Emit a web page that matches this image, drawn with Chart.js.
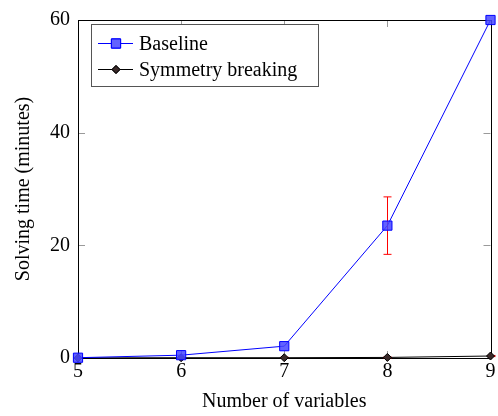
<!DOCTYPE html>
<html>
<head>
<meta charset="utf-8">
<script src="https://cdn.jsdelivr.net/npm/chart.js@4/dist/chart.umd.min.js"></script>
<style>
  html, body { margin: 0; padding: 0; background: #fff; }
  #wrap { width: 498px; height: 416px; }
</style>
</head>
<body>
<div id="wrap"><canvas id="c" width="498" height="416"></canvas></div>
<script>
const numVariables = [5, 6, 7, 8, 9];
const baselineTime = [0.05, 0.5, 2.1, 23.5, 60];
const baselineErr = [0, 0, 0, 5.1, 0];
const symmetryTime = [0.02, 0.05, 0.05, 0.1, 0.35];
const symmetryErr = [0, 0, 0.1, 0.1, 0.1];
const xTicks = [5, 6, 7, 8, 9];
const yTicks = [0, 20, 40, 60];
const seriesNames = ['Baseline', 'Symmetry breaking'];

const FONT = '"Liberation Serif", "Times New Roman", serif';
const FS = 20;

const toPoints = (ys) => numVariables.map((x, i) => ({ x: x, y: ys[i] }));

const errorBars = {
  id: 'errorBars',
  beforeDatasetsDraw(chart) {
    const ctx = chart.ctx;
    const xs = chart.scales.x, ys = chart.scales.y;
    const errs = [baselineErr, symmetryErr];
    const vals = [baselineTime, symmetryTime];
    ctx.save();
    ctx.strokeStyle = '#ff0000';
    ctx.lineWidth = 1;
    errs.forEach((e, k) => {
      numVariables.forEach((xv, i) => {
        if (!e[i]) return;
        const px = Math.round(xs.getPixelForValue(xv)) + 0.5;
        const top = ys.getPixelForValue(vals[k][i] + e[i]);
        const bot = ys.getPixelForValue(Math.max(0, vals[k][i] - e[i]));
        ctx.beginPath();
        ctx.moveTo(px, top); ctx.lineTo(px, bot);
        ctx.moveTo(px - 4, top); ctx.lineTo(px + 4, top);
        ctx.moveTo(px - 4, bot); ctx.lineTo(px + 4, bot);
        ctx.stroke();
      });
    });
    ctx.restore();
  }
};

const frame = {
  id: 'frame',
  beforeDatasetsDraw(chart) {
    const ctx = chart.ctx;
    const a = chart.chartArea;
    const xs = chart.scales.x, ys = chart.scales.y;
    ctx.save();
    // inward ticks
    ctx.strokeStyle = '#9a9a9a';
    ctx.lineWidth = 1;
    const TL = 7;
    ctx.beginPath();
    xTicks.forEach(v => {
      const px = Math.round(xs.getPixelForValue(v)) + 0.5;
      ctx.moveTo(px, a.bottom); ctx.lineTo(px, a.bottom - TL);
      ctx.moveTo(px, a.top); ctx.lineTo(px, a.top + TL);
    });
    yTicks.forEach(v => {
      const py = Math.round(ys.getPixelForValue(v)) + 0.5;
      ctx.moveTo(a.left, py); ctx.lineTo(a.left + TL, py);
      ctx.moveTo(a.right, py); ctx.lineTo(a.right - TL, py);
    });
    ctx.stroke();
    // box
    ctx.strokeStyle = '#000';
    ctx.lineWidth = 1;
    ctx.strokeRect(Math.round(a.left) + 0.5, Math.round(a.top) + 0.5,
      Math.round(a.right - a.left), Math.round(a.bottom - a.top));
    ctx.restore();
  }
};

const legendBox = {
  id: 'legendBox',
  afterDatasetsDraw(chart) {
    const ctx = chart.ctx;
    const x0 = 91.5, y0 = 24.5, w = 227, h = 62;
    ctx.save();
    ctx.fillStyle = '#fff';
    ctx.fillRect(x0, y0, w, h);
    ctx.strokeStyle = '#555';
    ctx.lineWidth = 1;
    ctx.strokeRect(x0, y0, w, h);
    const rows = [43, 69];
    chart.data.datasets.forEach((ds, i) => {
      const cy = rows[i] + 0.5;
      ctx.strokeStyle = ds.borderColor;
      ctx.lineWidth = 1;
      ctx.beginPath();
      ctx.moveTo(98, cy); ctx.lineTo(133, cy);
      ctx.stroke();
      Chart.helpers.drawPoint(ctx, {
        pointStyle: ds.pointStyle, radius: ds.pointRadius, borderWidth: 1, rotation: 0
      }, 116, cy);
      ctx.fillStyle = ds.pointBackgroundColor;
      ctx.strokeStyle = ds.pointBorderColor;
      ctx.fill();
      ctx.stroke();
      ctx.fillStyle = '#000';
      ctx.font = FS + 'px ' + FONT;
      ctx.textBaseline = 'middle';
      ctx.textAlign = 'left';
      ctx.fillText(ds.label, 139, cy + 1);
    });
    ctx.restore();
  }
};

new Chart(document.getElementById('c'), {
  type: 'line',
  data: {
    datasets: [
      {
        label: seriesNames[0],
        data: toPoints(baselineTime),
        borderColor: '#0000ff',
        borderWidth: 1,
        pointStyle: 'rect',
        pointRadius: 6.5,
        pointBackgroundColor: 'rgba(70,70,255,0.85)',
        pointBorderColor: '#0000ff',
        pointBorderWidth: 1,
        tension: 0,
        clip: false
      },
      {
        label: seriesNames[1],
        data: toPoints(symmetryTime),
        borderColor: '#000000',
        borderWidth: 1,
        pointStyle: 'rectRot',
        pointRadius: 4,
        pointBackgroundColor: '#3a2a2a',
        pointBorderColor: '#000000',
        pointBorderWidth: 1,
        tension: 0,
        clip: false
      }
    ]
  },
  options: {
    responsive: false,
    animation: false,
    devicePixelRatio: 1,
    layout: { padding: { left: 0, top: 14, right: 6, bottom: 0 } },
    plugins: { legend: { display: false }, tooltip: { enabled: false } },
    scales: {
      x: {
        type: 'linear', min: 5, max: 9,
        afterFit(s) { s.height = 58; },
        afterBuildTicks(s) { s.ticks = xTicks.map(v => ({ value: v })); },
        grid: { display: false, drawTicks: false },
        border: { display: false },
        ticks: { padding: 2, color: '#000', font: { family: FONT, size: FS } },
        title: { display: true, text: 'Number of variables', color: '#000',
          font: { family: FONT, size: FS, lineHeight: 1.2 }, padding: { top: 2, bottom: 2 } }
      },
      y: {
        type: 'linear', min: 0, max: 60,
        afterFit(s) { s.width = 78; },
        afterBuildTicks(s) { s.ticks = yTicks.map(v => ({ value: v })); },
        grid: { display: false, drawTicks: false },
        border: { display: false },
        ticks: { padding: 8, color: '#000', font: { family: FONT, size: FS } },
        title: { display: true, text: 'Solving time (minutes)', color: '#000',
          font: { family: FONT, size: FS, lineHeight: 1.2 }, padding: { top: 12, bottom: 0 } }
      }
    }
  },
  plugins: [frame, errorBars, legendBox]
});
</script>
</body>
</html>
